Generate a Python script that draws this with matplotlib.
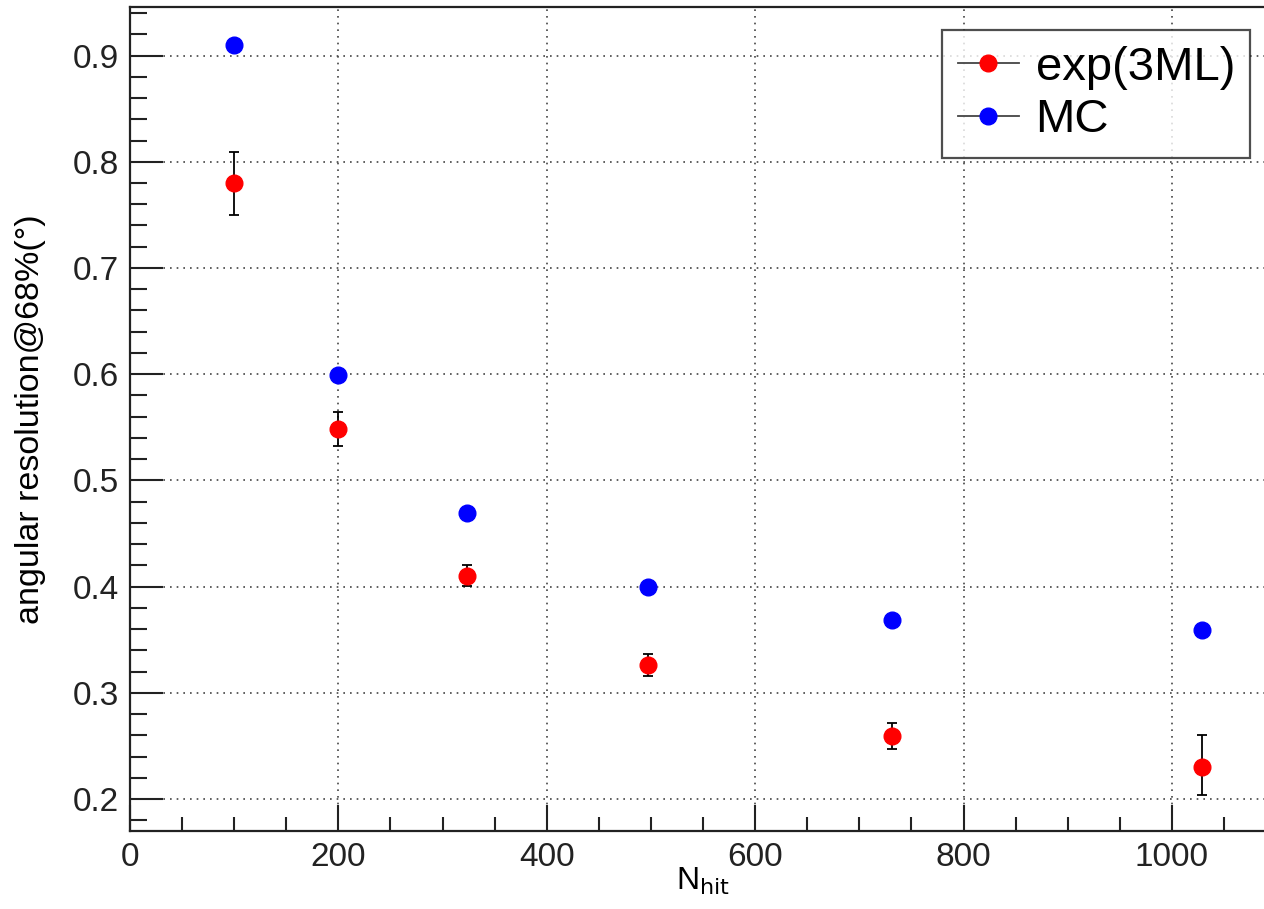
import numpy as np
import matplotlib.pyplot as plt
from matplotlib.ticker import MultipleLocator
from matplotlib.lines import Line2D

plt.rcParams['font.family'] = ['Liberation Sans', 'DejaVu Sans']

# Data
n_hit = [100, 200, 323, 497, 731, 1029]
res_exp = [0.780, 0.548, 0.410, 0.326, 0.259, 0.230]
err_exp_lo = [0.030, 0.016, 0.009, 0.010, 0.012, 0.026]
err_exp_hi = [0.029, 0.016, 0.010, 0.011, 0.013, 0.030]
res_mc = [0.910, 0.599, 0.469, 0.400, 0.369, 0.359]

fig = plt.figure(figsize=(12.64, 9.09), dpi=100)
# axes runs slightly past the right edge, as in the reference
ax = fig.add_axes([130 / 1264, 1 - 831 / 909, 1150 / 1264, 824 / 909])

ax.errorbar(n_hit, res_exp, yerr=[err_exp_lo, err_exp_hi], fmt='o', color='red',
            markersize=12, ecolor='black', elinewidth=1.3, capsize=3.5, capthick=1.3,
            zorder=3)
ax.plot(n_hit, res_mc, 'o', color='blue', markersize=12, zorder=3)

ax.set_xlim(0, 1150 / 1.042)
ax.set_ylim(0.1699, 0.9457)

ax.xaxis.set_major_locator(MultipleLocator(200))
ax.xaxis.set_minor_locator(MultipleLocator(50))
ax.yaxis.set_major_locator(MultipleLocator(0.1))
ax.yaxis.set_minor_locator(MultipleLocator(0.02))
ax.yaxis.set_major_formatter(lambda v, p: f'{v:.1f}')

ax.tick_params(which='both', direction='in', top=False, right=False,
               width=1.5, colors='#222222', labelcolor='#222222', labelsize=24, pad=8)
ax.tick_params(axis='x', which='major', length=19)
ax.tick_params(axis='x', which='minor', length=10)
ax.tick_params(axis='y', which='major', length=24)
ax.tick_params(axis='y', which='minor', length=12)

for s in ax.spines.values():
    s.set_linewidth(1.6)
    s.set_color('#222222')

ax.grid(True, which='major', linestyle=(0, (1, 3)), color='#444444', linewidth=1.2)

ax.set_xlabel(r'N$_{\mathrm{hit}}$', fontsize=23)
ax.xaxis.set_label_coords((703 - 130) / 1150, -0.042)
ax.set_ylabel('angular resolution@68%(°)', fontsize=24.5)
ax.yaxis.set_label_coords(-0.073, 0.5)

# legend with line through the marker, like ROOT's "lep" entries
h_exp = Line2D([], [], color='#444444', linewidth=1.3, marker='o', markersize=12,
               markerfacecolor='red', markeredgecolor='red')
h_mc = Line2D([], [], color='#444444', linewidth=1.3, marker='o', markersize=12,
              markerfacecolor='blue', markeredgecolor='blue')
leg = ax.legend([h_exp, h_mc], ['exp(3ML)', 'MC'], loc='upper left',
                bbox_to_anchor=((942 - 130) / 1150, (831 - 30) / 824),
                fontsize=34, frameon=True, fancybox=False, edgecolor='#222222',
                handlelength=1.3, handletextpad=0.35, borderpad=0.33, labelspacing=0.18,
                borderaxespad=0)
leg.get_frame().set_linewidth(1.6)

fig.savefig('out.png', dpi=100)
